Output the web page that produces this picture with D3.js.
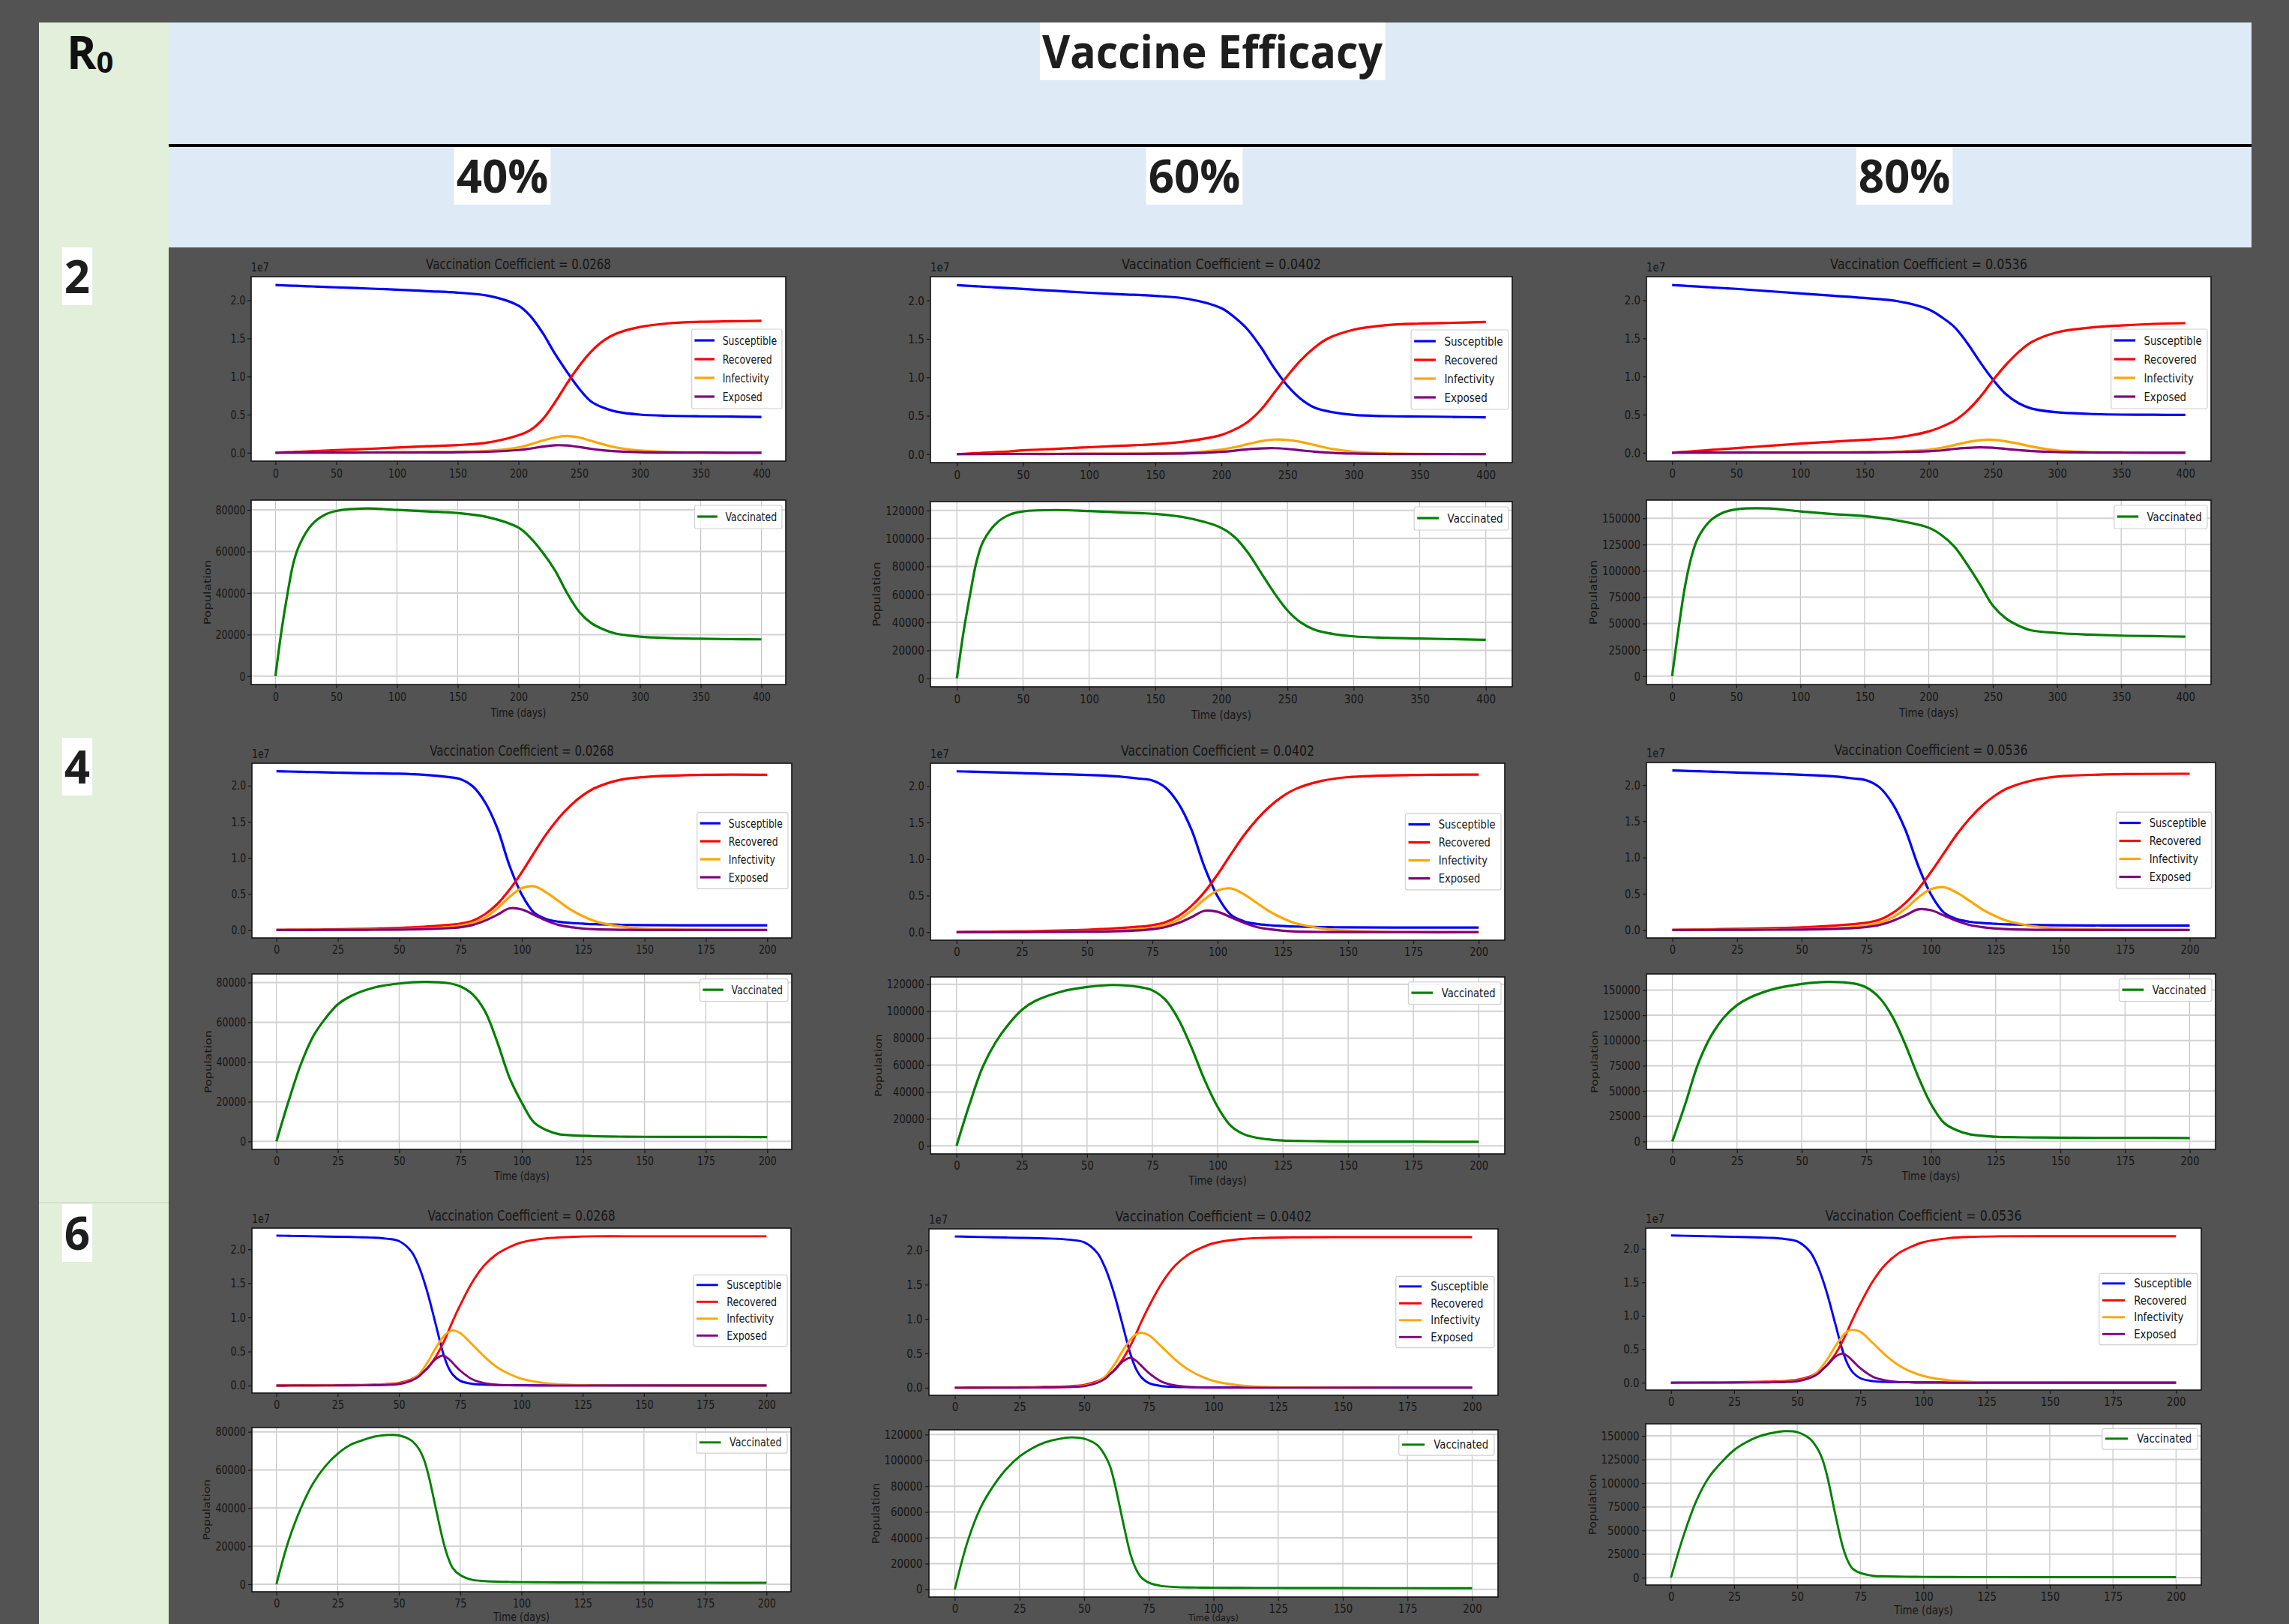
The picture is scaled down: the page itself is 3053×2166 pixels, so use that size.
<!DOCTYPE html>
<html>
<head>
<meta charset="utf-8">
<script src="https://cdn.jsdelivr.net/npm/d3@7"></script>
<style>
  body { margin: 0; background: #535353; }
</style>
</head>
<body>
<svg id="chart"></svg>
<script>
// --- table headers ---
const efficacies = ["40%", "60%", "80%"];
const r0Values = ["2", "4", "6"];
const coefLabels = ["0.0268", "0.0402", "0.0536"];
const seriesNames = ["Susceptible", "Recovered", "Infectivity", "Exposed"];

// --- tick labels ---
const xTicks400 = [0, 50, 100, 150, 200, 250, 300, 350, 400];
const xTicks200 = [0, 25, 50, 75, 100, 125, 150, 175, 200];
const seirTicks = [0, 0.5, 1.0, 1.5, 2.0];
const vaccTicks40 = [0, 20000, 40000, 60000, 80000];
const vaccTicks60 = [0, 20000, 40000, 60000, 80000, 100000, 120000];
const vaccTicks80 = [0, 25000, 50000, 75000, 100000, 125000, 150000];

// --- time samples (days) ---
const T400 = [0,5,10,15,20,30,40,50,75,100,125,150,175,200,210,220,230,240,250,260,270,280,300,325,350,375,400];
const T200a = [0,5,10,15,20,25,30,40,50,60,70,75,80,85,90,95,100,105,110,115,120,125,130,140,150,175,200];
const T200b = [0,5,10,15,20,25,30,35,40,45,50,55,58,60,62,65,68,70,72,75,80,85,90,95,100,110,120,130,150,175,200];

// --- R0 = 2 (values of S, R, I, E in units of 1e7) ---
const S2_40 = [2.200,2.197,2.194,2.191,2.188,2.182,2.176,2.170,2.155,2.140,2.120,2.100,2.060,1.930,1.790,1.570,1.300,1.060,0.840,0.670,0.590,0.540,0.500,0.485,0.478,0.474,0.470];
const R2_40 = [0,0.003,0.006,0.010,0.013,0.020,0.027,0.035,0.050,0.068,0.085,0.100,0.135,0.230,0.300,0.440,0.660,0.910,1.140,1.330,1.470,1.560,1.650,1.700,1.718,1.725,1.730];
const I2_40 = [0,0.001,0.002,0.002,0.003,0.003,0.004,0.004,0.005,0.006,0.008,0.012,0.025,0.070,0.110,0.160,0.200,0.220,0.200,0.155,0.110,0.070,0.030,0.010,0.004,0.002,0.001];
const E2_40 = [0,0.001,0.001,0.001,0.002,0.002,0.002,0.002,0.003,0.003,0.004,0.006,0.013,0.035,0.055,0.080,0.098,0.095,0.075,0.050,0.032,0.020,0.007,0.002,0.001,0,0];
const V2_40 = [0,22000,40000,55000,63500,73000,77500,79500,80700,80000,79300,78500,76500,71500,66500,59500,51000,40000,31000,25500,22500,20500,19000,18300,18000,17800,17700];

const S2_60 = [2.200,2.195,2.190,2.185,2.180,2.170,2.160,2.150,2.125,2.100,2.080,2.060,2.020,1.900,1.780,1.620,1.390,1.120,0.890,0.720,0.610,0.560,0.510,0.495,0.490,0.485,0.480];
const R2_60 = [0,0.004,0.009,0.013,0.018,0.027,0.036,0.050,0.070,0.090,0.110,0.130,0.170,0.250,0.320,0.420,0.580,0.800,1.020,1.220,1.380,1.500,1.620,1.680,1.700,1.710,1.720];
const I2_60 = [0,0.001,0.001,0.002,0.002,0.003,0.003,0.004,0.004,0.005,0.007,0.010,0.020,0.060,0.090,0.130,0.170,0.190,0.185,0.160,0.120,0.080,0.030,0.010,0.004,0.002,0.001];
const E2_60 = [0,0.001,0.001,0.001,0.001,0.002,0.002,0.002,0.002,0.003,0.003,0.005,0.010,0.030,0.045,0.065,0.075,0.078,0.068,0.050,0.033,0.020,0.008,0.002,0.001,0,0];
const V2_60 = [0,33000,60000,84000,98000,111000,117000,119300,120300,119500,118500,117500,114500,107500,101000,90000,75500,61000,48500,40000,35000,32500,30000,29000,28500,28000,27500];

const S2_80 = [2.200,2.195,2.190,2.185,2.180,2.170,2.160,2.150,2.120,2.090,2.060,2.030,1.990,1.880,1.780,1.650,1.440,1.190,0.960,0.770,0.650,0.580,0.530,0.510,0.500,0.498,0.496];
const R2_80 = [0,0.006,0.012,0.018,0.024,0.036,0.048,0.060,0.090,0.120,0.145,0.170,0.200,0.280,0.340,0.420,0.550,0.730,0.950,1.150,1.320,1.450,1.580,1.640,1.670,1.690,1.700];
const I2_80 = [0,0.001,0.001,0.002,0.002,0.003,0.003,0.004,0.004,0.005,0.006,0.008,0.015,0.040,0.065,0.100,0.140,0.165,0.170,0.150,0.120,0.080,0.030,0.010,0.004,0.002,0.001];
const E2_80 = [0,0.001,0.001,0.001,0.001,0.002,0.002,0.002,0.002,0.002,0.003,0.004,0.008,0.020,0.030,0.050,0.063,0.070,0.065,0.050,0.035,0.022,0.008,0.003,0.001,0,0];
const V2_80 = [0,45000,85000,113000,131000,148000,155500,158500,159300,156500,154000,152000,148000,141000,134000,123000,106000,87000,67000,55000,48000,43500,41000,39500,38500,38000,37500];

// --- R0 = 4 ---
const S4_40 = [2.200,2.196,2.192,2.188,2.184,2.180,2.176,2.170,2.165,2.150,2.120,2.090,1.990,1.770,1.410,0.890,0.490,0.240,0.150,0.115,0.098,0.088,0.080,0.072,0.067,0.065,0.065];
const R4_40 = [0,0.002,0.004,0.006,0.008,0.010,0.013,0.020,0.030,0.045,0.070,0.090,0.130,0.220,0.360,0.560,0.800,1.070,1.330,1.550,1.730,1.870,1.970,2.080,2.120,2.150,2.150];
const I4_40 = [0,0.001,0.002,0.002,0.003,0.004,0.005,0.007,0.011,0.020,0.040,0.060,0.100,0.170,0.300,0.460,0.580,0.605,0.520,0.400,0.280,0.190,0.120,0.050,0.020,0.004,0.001];
const E4_40 = [0,0.001,0.001,0.001,0.002,0.002,0.003,0.004,0.006,0.012,0.025,0.040,0.070,0.130,0.210,0.300,0.285,0.210,0.130,0.070,0.040,0.020,0.010,0.003,0.001,0,0];
const V4_40 = [0,20500,39000,53000,62000,69000,73000,77500,79500,80300,79700,78000,74000,65500,50000,32000,19500,9500,5700,3700,3100,2800,2600,2400,2300,2250,2200];

const S4_60 = [2.200,2.195,2.190,2.185,2.180,2.175,2.170,2.160,2.150,2.135,2.100,2.075,1.980,1.760,1.400,0.890,0.490,0.240,0.150,0.112,0.095,0.085,0.077,0.069,0.065,0.063,0.063];
const R4_60 = [0,0.002,0.005,0.007,0.010,0.012,0.015,0.022,0.033,0.050,0.075,0.095,0.135,0.220,0.360,0.550,0.790,1.060,1.320,1.540,1.720,1.860,1.960,2.070,2.120,2.150,2.155];
const I4_60 = [0,0.001,0.002,0.002,0.003,0.004,0.005,0.007,0.011,0.020,0.040,0.060,0.100,0.170,0.295,0.450,0.570,0.598,0.520,0.400,0.280,0.190,0.120,0.050,0.020,0.004,0.001];
const E4_60 = [0,0.001,0.001,0.001,0.002,0.002,0.003,0.004,0.006,0.012,0.025,0.040,0.070,0.125,0.205,0.292,0.278,0.205,0.130,0.070,0.040,0.020,0.010,0.003,0.001,0,0];
const V4_60 = [0,31000,58500,77000,90500,101000,107500,114500,118000,119500,118000,115500,108500,94000,73000,49000,29000,15000,8700,6000,4700,4000,3700,3400,3200,3100,3000];

const S4_80 = [2.200,2.195,2.190,2.184,2.178,2.172,2.166,2.155,2.140,2.125,2.090,2.065,1.970,1.750,1.390,0.890,0.490,0.240,0.150,0.112,0.095,0.085,0.077,0.069,0.065,0.062,0.062];
const R4_80 = [0,0.003,0.006,0.009,0.012,0.015,0.018,0.026,0.037,0.055,0.080,0.100,0.140,0.230,0.370,0.560,0.800,1.060,1.320,1.540,1.720,1.860,1.960,2.070,2.120,2.150,2.155];
const I4_80 = [0,0.001,0.002,0.002,0.003,0.004,0.005,0.007,0.011,0.020,0.040,0.060,0.100,0.170,0.290,0.445,0.565,0.590,0.515,0.400,0.280,0.190,0.120,0.050,0.020,0.004,0.001];
const E4_80 = [0,0.001,0.001,0.001,0.002,0.002,0.003,0.004,0.006,0.012,0.025,0.040,0.068,0.122,0.200,0.285,0.272,0.200,0.125,0.068,0.038,0.020,0.010,0.003,0.001,0,0];
const V4_80 = [0,37000,77000,104500,123000,135000,142500,151500,156000,158000,156500,152500,142500,124000,96500,64500,37000,18500,11000,7000,5600,4600,4200,3900,3700,3500,3400];

// --- R0 = 6 ---
const S6_40 = [2.200,2.197,2.194,2.190,2.187,2.183,2.180,2.175,2.170,2.155,2.120,1.970,1.760,1.560,1.320,0.900,0.480,0.280,0.160,0.070,0.025,0.013,0.008,0.006,0.005,0.004,0.004,0.004,0.004,0.004,0.004];
const R6_40 = [0,0.001,0.002,0.003,0.004,0.006,0.008,0.010,0.014,0.022,0.040,0.090,0.150,0.200,0.270,0.420,0.620,0.780,0.950,1.180,1.520,1.770,1.930,2.030,2.100,2.160,2.180,2.190,2.190,2.190,2.190];
const I6_40 = [0,0.001,0.001,0.002,0.002,0.003,0.004,0.006,0.009,0.016,0.030,0.080,0.160,0.250,0.360,0.550,0.710,0.780,0.810,0.770,0.600,0.420,0.270,0.170,0.100,0.035,0.012,0.004,0.001,0,0];
const E6_40 = [0,0.001,0.001,0.001,0.001,0.002,0.003,0.004,0.006,0.011,0.022,0.070,0.130,0.200,0.270,0.390,0.440,0.400,0.330,0.220,0.090,0.035,0.012,0.005,0.002,0,0,0,0,0,0];
const V6_40 = [0,23000,40000,53000,62000,68500,73000,75500,77500,78300,78100,75500,71300,66200,57600,40200,22900,14200,8400,4800,2300,1700,1400,1250,1150,1050,1000,950,900,850,800];

const S6_60 = [2.200,2.196,2.192,2.188,2.184,2.180,2.176,2.171,2.165,2.150,2.115,1.965,1.755,1.555,1.315,0.895,0.478,0.278,0.158,0.068,0.024,0.012,0.008,0.006,0.005,0.004,0.004,0.004,0.004,0.004,0.004];
const R6_60 = [0,0.001,0.002,0.004,0.005,0.007,0.009,0.012,0.016,0.024,0.042,0.092,0.152,0.202,0.272,0.420,0.620,0.780,0.950,1.180,1.520,1.770,1.930,2.030,2.100,2.160,2.180,2.188,2.190,2.190,2.190];
const I6_60 = [0,0.001,0.001,0.002,0.002,0.003,0.004,0.006,0.009,0.016,0.030,0.080,0.160,0.250,0.355,0.545,0.705,0.775,0.800,0.765,0.595,0.415,0.270,0.170,0.100,0.035,0.012,0.004,0.001,0,0];
const E6_60 = [0,0.001,0.001,0.001,0.001,0.002,0.003,0.004,0.006,0.011,0.022,0.070,0.128,0.195,0.265,0.385,0.435,0.395,0.325,0.215,0.088,0.034,0.012,0.005,0.002,0,0,0,0,0,0];
const V6_60 = [0,37500,63500,80500,93500,103000,109500,114000,116500,117800,116800,112000,104000,95500,80500,52500,26700,16000,9500,5200,2600,1900,1500,1400,1300,1200,1150,1100,1050,1000,900];

const S6_80 = [2.200,2.196,2.192,2.188,2.184,2.180,2.175,2.170,2.164,2.148,2.112,1.960,1.750,1.550,1.310,0.890,0.475,0.275,0.155,0.066,0.023,0.012,0.008,0.006,0.005,0.004,0.004,0.004,0.004,0.004,0.004];
const R6_80 = [0,0.002,0.003,0.005,0.006,0.008,0.010,0.013,0.018,0.026,0.044,0.094,0.154,0.204,0.274,0.422,0.622,0.782,0.950,1.180,1.520,1.770,1.930,2.030,2.100,2.160,2.180,2.188,2.190,2.190,2.190];
const I6_80 = [0,0.001,0.001,0.002,0.002,0.003,0.004,0.006,0.009,0.016,0.030,0.080,0.160,0.250,0.355,0.540,0.700,0.770,0.790,0.760,0.590,0.410,0.265,0.165,0.100,0.035,0.012,0.004,0.001,0,0];
const E6_80 = [0,0.001,0.001,0.001,0.001,0.002,0.003,0.004,0.006,0.011,0.022,0.070,0.128,0.195,0.265,0.385,0.435,0.395,0.325,0.215,0.088,0.034,0.012,0.005,0.002,0,0,0,0,0,0];
const V6_80 = [0,44500,81000,106000,122000,135000,143500,149500,153000,155000,154000,147000,136500,125000,106000,68000,33000,18000,9400,5000,2000,1500,1200,1000,900,800,700,650,600,600,600];

// one entry per cell, row by row (R0), column by column (efficacy)
const runs = [
  [T400, S2_40, R2_40, I2_40, E2_40, V2_40],
  [T400, S2_60, R2_60, I2_60, E2_60, V2_60],
  [T400, S2_80, R2_80, I2_80, E2_80, V2_80],
  [T200a, S4_40, R4_40, I4_40, E4_40, V4_40],
  [T200a, S4_60, R4_60, I4_60, E4_60, V4_60],
  [T200a, S4_80, R4_80, I4_80, E4_80, V4_80],
  [T200b, S6_40, R6_40, I6_40, E6_40, V6_40],
  [T200b, S6_60, R6_60, I6_60, E6_60, V6_60],
  [T200b, S6_80, R6_80, I6_80, E6_80, V6_80],
];
const rowXTicks = [xTicks400, xTicks200, xTicks200];
const colVaccTicks = [vaccTicks40, vaccTicks60, vaccTicks80];

// --- layout (pixel boxes of each pasted plot) ---
const W = 3053, H = 2166;
const panelBoxes = [
  { top: [335, 1048, 369, 615],   bot: [335, 1048, 667, 913],    kx: 0.76 },
  { top: [1241, 2017, 369, 617],  bot: [1241, 2017, 669, 916],   kx: 0.82 },
  { top: [2196, 2949, 369, 615],  bot: [2196, 2949, 667, 913],   kx: 0.81 },
  { top: [336, 1056, 1018, 1251], bot: [336, 1056, 1299, 1533],  kx: 0.78 },
  { top: [1241, 2007, 1018, 1254],bot: [1241, 2007, 1303, 1539], kx: 0.82 },
  { top: [2196, 2955, 1017, 1251],bot: [2196, 2955, 1299, 1533], kx: 0.82 },
  { top: [336, 1055, 1638, 1858], bot: [336, 1055, 1904, 2123],  kx: 0.82 },
  { top: [1239, 1998, 1639, 1861],bot: [1239, 1998, 1907, 2130], kx: 0.86 },
  { top: [2195, 2936, 1638, 1854],bot: [2195, 2936, 1899, 2114], kx: 0.86 },
];
const rowFont = [16.5, 16, 15.5];
const rowVs = [1, 0.96, 0.9];
const efficacyX = [670, 1593, 2540];
const r0Baseline = [391, 1045, 1667];

const seirColors = ["#0000ff", "#ff0000", "#ffa500", "#800080"];
const vaccColor = "#008000";
const ink = "#151515";

const svg = d3.select("#chart").attr("width", W).attr("height", H);

// background table
svg.append("rect").attr("width", W).attr("height", H).attr("fill", "#535353");
svg.append("rect").attr("x", 52).attr("y", 30).attr("width", 173).attr("height", H - 30).attr("fill", "#e2efda");
svg.append("line").attr("x1", 52).attr("x2", 225).attr("y1", 1604).attr("y2", 1604)
  .attr("stroke", "#c3d1ba").attr("stroke-width", 1);
svg.append("rect").attr("x", 225).attr("y", 30).attr("width", 2778).attr("height", 300).attr("fill", "#deeaf6");
svg.append("line").attr("x1", 225).attr("x2", 3003).attr("y1", 194).attr("y2", 194)
  .attr("stroke", "#000").attr("stroke-width", 4);

const headFont = "'Open Sans', 'DejaVu Sans', sans-serif";

// R0 corner label
const r0 = svg.append("text").attr("x", 89).attr("y", 92)
  .attr("font-family", headFont).attr("font-weight", 700).attr("font-size", 60).attr("fill", "#111");
r0.append("tspan").text("R");
r0.append("tspan").attr("font-size", 40).attr("dy", 5).text("0");

// header text with white text-box behind
function boxedLabel(txt, x, baseline, len) {
  const g = svg.append("g");
  const bg = g.append("rect").attr("fill", "#fff");
  const t = g.append("text").attr("x", x).attr("y", baseline).attr("text-anchor", "middle")
    .attr("font-family", headFont).attr("font-weight", 700).attr("font-size", 60)
    .attr("fill", "#1e1e1e").text(txt);
  if (len) t.attr("textLength", len).attr("lengthAdjust", "spacingAndGlyphs");
  const b = t.node().getBBox();
  bg.attr("x", b.x - 3).attr("y", baseline - 61).attr("width", b.width + 6).attr("height", 77);
}
boxedLabel("Vaccine Efficacy", 1617, 91, 454);
efficacies.forEach((e, i) => boxedLabel(e, efficacyX[i], 257));
r0Values.forEach((r, i) => boxedLabel(r, 103, r0Baseline[i]));

// helpers
const padded = ([a, b]) => [a - (b - a) * 0.05, b + (b - a) * 0.05];
const smooth = d3.curveCatmullRom.alpha(0.5);

function squish(g, txt, x, y, kx, fs, anchor, rot) {
  return g.append("text")
    .attr("transform", `translate(${x},${y}) scale(${kx},1)` + (rot ? ` rotate(${rot})` : ""))
    .attr("text-anchor", anchor).attr("font-size", fs).attr("fill", ink).text(txt);
}

function styleAxis(ax, fs, kx, left) {
  ax.attr("font-family", null).attr("font-size", null);
  ax.select(".domain").remove();
  ax.selectAll("line").attr("stroke", ink).attr("stroke-width", 1.2);
  ax.selectAll("text").attr("font-size", fs).attr("fill", ink)
    .attr("transform", `scale(${kx},1)`);
  if (left) ax.selectAll("text").attr("x", -10);
}

function legend(g, names, colors, right, top, kx, fs, step, vs, sw) {
  const lg = g.append("g").attr("transform", `translate(${right},${top}) scale(${kx},1)`);
  const box = lg.append("rect").attr("fill", "#fff").attr("fill-opacity", 0.8)
    .attr("stroke", "#d0d0d0").attr("stroke-width", 1.2).attr("rx", 3)
    .attr("vector-effect", "non-scaling-stroke");
  const texts = names.map((n, i) => lg.append("text").attr("y", 15 * vs + i * step)
    .attr("dy", "0.35em").attr("font-size", fs).attr("fill", ink).text(n));
  const tw = d3.max(texts, t => t.node().getComputedTextLength());
  const bw = 5 + 35 + 14 + tw + 9;
  const bh = (31 + (names.length - 1) * step / vs) * vs;
  box.attr("x", -bw).attr("y", 0).attr("width", bw).attr("height", bh);
  texts.forEach(t => t.attr("x", -bw + 54));
  names.forEach((n, i) => lg.append("line")
    .attr("x1", -bw + 5).attr("x2", -bw + 40)
    .attr("y1", 15 * vs + i * step).attr("y2", 15 * vs + i * step)
    .attr("stroke", colors[i]).attr("stroke-width", sw));
  return bh;
}

// --- draw the nine simulation plots ---
runs.forEach((run, k) => {
  const row = Math.floor(k / 3), col = k % 3;
  const [t, S, Rc, I, E, V] = run;
  const box = panelBoxes[k], kx = box.kx, fs = rowFont[row], vs = rowVs[row];
  const sw = row === 2 ? 2.9 : 3.2;
  const xt = rowXTicks[row];
  const g = svg.append("g").attr("font-family", "'DejaVu Sans', sans-serif");

  // ---- upper plot: S, R, I, E ----
  const [L, Rr, T, B] = box.top;
  const x = d3.scaleLinear().domain(padded([0, d3.max(t)])).range([L, Rr]);
  const all = [S, Rc, I, E].flat();
  const y = d3.scaleLinear().domain(padded([d3.min(all), d3.max(all)])).range([B, T]);

  g.append("rect").attr("x", L).attr("y", T).attr("width", Rr - L).attr("height", B - T).attr("fill", "#fff");
  [S, Rc, I, E].forEach((vals, i) => {
    g.append("path")
      .attr("d", d3.line().x((d, j) => x(t[j])).y(d => y(d)).curve(smooth)(vals))
      .attr("fill", "none").attr("stroke", seirColors[i]).attr("stroke-width", sw)
      .attr("stroke-linejoin", "round");
  });
  g.append("rect").attr("x", L).attr("y", T).attr("width", Rr - L).attr("height", B - T)
    .attr("fill", "none").attr("stroke", ink).attr("stroke-width", 1.6);

  const axX = g.append("g").attr("transform", `translate(0,${B})`)
    .call(d3.axisBottom(x).tickValues(xt).tickSize(5).tickPadding(5).tickFormat(d3.format("d")));
  styleAxis(axX, fs, kx, false);
  const axY = g.append("g").attr("transform", `translate(${L},0)`)
    .call(d3.axisLeft(y).tickValues(seirTicks).tickSize(5).tickPadding(5).tickFormat(d3.format(".1f")));
  styleAxis(axY, fs, kx, true);

  squish(g, "1e7", L, T - 7, kx, fs, "start");
  squish(g, "Vaccination Coefficient = " + coefLabels[col], (L + Rr) / 2, T - 10, kx, fs * 1.2, "middle");

  const lh = 106 * vs;
  legend(g, seriesNames, seirColors, Rr - 5, (T + B) / 2 - lh / 2, kx, fs, 25 * vs, vs, sw);

  // ---- lower plot: vaccinated ----
  const [Lb, Rb, Tb, Bb] = box.bot;
  const xb = d3.scaleLinear().domain(padded([0, d3.max(t)])).range([Lb, Rb]);
  const yb = d3.scaleLinear().domain(padded([0, d3.max(V)])).range([Bb, Tb]);
  const vt = colVaccTicks[col];

  g.append("rect").attr("x", Lb).attr("y", Tb).attr("width", Rb - Lb).attr("height", Bb - Tb).attr("fill", "#fff");
  g.selectAll(null).data(xt).join("line")
    .attr("x1", d => xb(d)).attr("x2", d => xb(d)).attr("y1", Tb).attr("y2", Bb)
    .attr("stroke", "#c4c4c4").attr("stroke-width", 1.2);
  g.selectAll(null).data(vt).join("line")
    .attr("x1", Lb).attr("x2", Rb).attr("y1", d => yb(d)).attr("y2", d => yb(d))
    .attr("stroke", "#d2d2d2").attr("stroke-width", 2);
  g.append("path")
    .attr("d", d3.line().x((d, j) => xb(t[j])).y(d => yb(d)).curve(smooth)(V))
    .attr("fill", "none").attr("stroke", vaccColor).attr("stroke-width", sw)
    .attr("stroke-linejoin", "round");
  g.append("rect").attr("x", Lb).attr("y", Tb).attr("width", Rb - Lb).attr("height", Bb - Tb)
    .attr("fill", "none").attr("stroke", ink).attr("stroke-width", 1.6);

  const axXb = g.append("g").attr("transform", `translate(0,${Bb})`)
    .call(d3.axisBottom(xb).tickValues(xt).tickSize(5).tickPadding(5).tickFormat(d3.format("d")));
  styleAxis(axXb, fs, kx, false);
  const axYb = g.append("g").attr("transform", `translate(${Lb},0)`)
    .call(d3.axisLeft(yb).tickValues(vt).tickSize(5).tickPadding(5).tickFormat(d3.format("d")));
  styleAxis(axYb, fs, kx, true);

  legend(g, ["Vaccinated"], [vaccColor], Rb - 5, Tb + 7 * vs, kx, fs, 25 * vs, vs, sw);

  const tickLeft = Lb + axYb.node().getBBox().x;
  squish(g, "Population", tickLeft - 7, (Tb + Bb) / 2, kx, fs, "middle", -90);

  // x label; near the page bottom it is made smaller so it still fits under the tick labels
  let xlBase = Bb + 43 * vs, xlFs = fs;
  if (xlBase > H - 5) {
    xlBase = H - 4;
    xlFs = Math.min(fs, (xlBase - (Bb + 10 + 0.71 * fs) - 1) / 0.76);
  }
  squish(g, "Time (days)", (Lb + Rb) / 2, xlBase, kx, xlFs, "middle");
});
</script>
</body>
</html>
